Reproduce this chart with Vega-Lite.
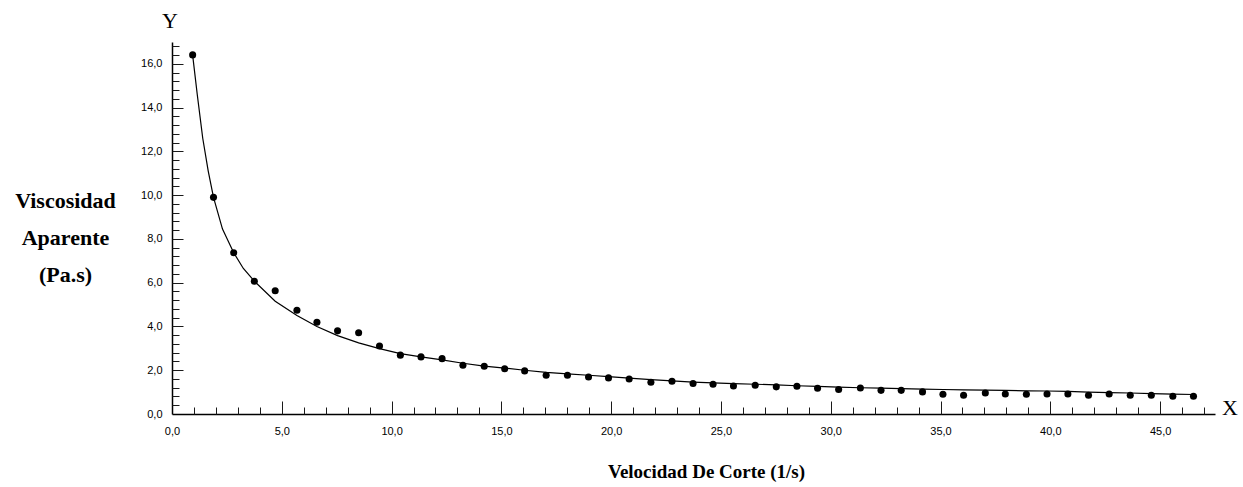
{
  "$schema": "https://vega.github.io/schema/vega-lite/v6.json",
  "autosize": {"type": "none"},
  "padding": {"left": 172, "top": 42, "right": 28, "bottom": 73},
  "width": 1043,
  "height": 372,
  "background": "white",
  "config": {
    "view": {"stroke": null},
    "axis": {"grid": false}
  },
  "datasets": {
    "pts": [
      {"x": 0.94, "y": 16.41}, {"x": 1.89, "y": 9.9}, {"x": 2.81, "y": 7.37}, {"x": 3.75, "y": 6.07},
      {"x": 4.7, "y": 5.63}, {"x": 5.69, "y": 4.74}, {"x": 6.6, "y": 4.19}, {"x": 7.54, "y": 3.8},
      {"x": 8.5, "y": 3.71}, {"x": 9.45, "y": 3.11}, {"x": 10.4, "y": 2.69}, {"x": 11.34, "y": 2.61},
      {"x": 12.3, "y": 2.53}, {"x": 13.25, "y": 2.23}, {"x": 14.22, "y": 2.18}, {"x": 15.15, "y": 2.07},
      {"x": 16.06, "y": 1.97}, {"x": 17.04, "y": 1.77}, {"x": 18.01, "y": 1.77}, {"x": 18.97, "y": 1.69},
      {"x": 19.88, "y": 1.65}, {"x": 20.82, "y": 1.6}, {"x": 21.81, "y": 1.45}, {"x": 22.77, "y": 1.5},
      {"x": 23.73, "y": 1.39}, {"x": 24.64, "y": 1.36}, {"x": 25.57, "y": 1.28}, {"x": 26.56, "y": 1.31},
      {"x": 27.52, "y": 1.24}, {"x": 28.46, "y": 1.27}, {"x": 29.4, "y": 1.18}, {"x": 30.36, "y": 1.12},
      {"x": 31.35, "y": 1.19}, {"x": 32.29, "y": 1.08}, {"x": 33.21, "y": 1.08}, {"x": 34.18, "y": 1.01},
      {"x": 35.11, "y": 0.9}, {"x": 36.05, "y": 0.86}, {"x": 37.04, "y": 0.96}, {"x": 37.95, "y": 0.91},
      {"x": 38.91, "y": 0.9}, {"x": 39.85, "y": 0.91}, {"x": 40.8, "y": 0.91}, {"x": 41.74, "y": 0.86},
      {"x": 42.68, "y": 0.91}, {"x": 43.64, "y": 0.86}, {"x": 44.6, "y": 0.86}, {"x": 45.58, "y": 0.81},
      {"x": 46.52, "y": 0.81}
    ],
    "fit": [
      {"x": 0.94, "y": 16.4}, {"x": 1.15, "y": 14.6}, {"x": 1.4, "y": 12.6}, {"x": 1.65, "y": 11.1},
      {"x": 1.89, "y": 9.9}, {"x": 2.3, "y": 8.45}, {"x": 2.81, "y": 7.37}, {"x": 3.25, "y": 6.65}, {"x": 3.75, "y": 6.07},
      {"x": 4.7, "y": 5.15}, {"x": 5.69, "y": 4.5}, {"x": 6.6, "y": 4.0}, {"x": 7.54, "y": 3.58},
      {"x": 8.5, "y": 3.25}, {"x": 9.45, "y": 2.99}, {"x": 10.4, "y": 2.76}, {"x": 11.34, "y": 2.61},
      {"x": 12.3, "y": 2.47}, {"x": 13.25, "y": 2.32}, {"x": 14.22, "y": 2.19}, {"x": 15.15, "y": 2.1},
      {"x": 16.06, "y": 2.0}, {"x": 17.04, "y": 1.9}, {"x": 18.01, "y": 1.83}, {"x": 18.97, "y": 1.77},
      {"x": 19.88, "y": 1.71}, {"x": 20.82, "y": 1.64}, {"x": 21.81, "y": 1.57}, {"x": 22.77, "y": 1.51},
      {"x": 23.73, "y": 1.46}, {"x": 24.64, "y": 1.42}, {"x": 25.57, "y": 1.39}, {"x": 26.56, "y": 1.36},
      {"x": 27.52, "y": 1.33}, {"x": 28.46, "y": 1.29}, {"x": 29.4, "y": 1.26}, {"x": 30.36, "y": 1.23},
      {"x": 31.35, "y": 1.2}, {"x": 32.29, "y": 1.18}, {"x": 33.21, "y": 1.16}, {"x": 34.18, "y": 1.14},
      {"x": 35.11, "y": 1.12}, {"x": 36.05, "y": 1.1}, {"x": 37.04, "y": 1.09}, {"x": 37.95, "y": 1.08},
      {"x": 38.91, "y": 1.06}, {"x": 39.85, "y": 1.05}, {"x": 40.8, "y": 1.03}, {"x": 41.74, "y": 1.0},
      {"x": 42.68, "y": 0.98}, {"x": 43.64, "y": 0.96}, {"x": 44.6, "y": 0.93}, {"x": 45.58, "y": 0.91},
      {"x": 46.52, "y": 0.89}
    ],
    "lbl": [
      {"x": 48.18, "y": 0.26, "t": "X"},
      {"x": -0.09, "y": 17.96, "t": "Y"}
    ]
  },
  "resolve": {"axis": {"x": "independent", "y": "independent"}},
  "layer": [
    {
      "data": {"name": "fit"},
      "mark": {"type": "line", "color": "black", "strokeWidth": 1.2},
      "encoding": {
        "x": {"field": "x", "type": "quantitative", "scale": {"domain": [0, 47.5], "nice": false, "zero": true},
          "axis": {"orient": "bottom", "values": [0, 5, 10, 15, 20, 25, 30, 35, 40, 45], "ticks": false, "labelPadding": 11,
            "domainColor": "#000000", "domainWidth": 1.5,
            "labelFont": "Liberation Sans", "labelFontSize": 11, "labelColor": "#000000",
            "labelExpr": "replace(format(datum.value, '.1f'), '.', ',')", "labelFlush": false,
            "title": "Velocidad De Corte (1/s)", "titleFont": "Liberation Serif", "titleFontSize": 19, "titleFontWeight": "bold",
            "titleColor": "#000000", "titleX": 534, "titleY": 57, "titleBaseline": "middle", "titleAlign": "center"}},
        "y": {"field": "y", "type": "quantitative", "scale": {"domain": [0, 17.0], "nice": false, "zero": true},
          "axis": {"orient": "left", "values": [0, 2, 4, 6, 8, 10, 12, 14, 16], "ticks": false, "labelPadding": 10,
            "domainColor": "#000000", "domainWidth": 1.5,
            "labelFont": "Liberation Sans", "labelFontSize": 11, "labelColor": "#000000",
            "labelExpr": "replace(format(datum.value, '.1f'), '.', ',')", "labelFlush": false,
            "title": ["Viscosidad", "Aparente", "(Pa.s)"], "titleFont": "Liberation Serif", "titleFontSize": 22, "titleFontWeight": "bold",
            "titleColor": "#000000", "titleAngle": 0, "titleX": -107, "titleY": 158, "titleAlign": "center", "titleBaseline": "middle", "titleLineHeight": 37}}
      }
    },
    {
      "data": {"name": "pts"},
      "mark": {"type": "point", "filled": true, "shape": "circle", "size": 50, "color": "black", "opacity": 1},
      "encoding": {
        "x": {"field": "x", "type": "quantitative",
          "axis": {"orient": "top", "offset": -372, "values": [1,2,3,4,5,6,7,8,9,10,11,12,13,14,15,16,17,18,19,20,21,22,23,24,25,26,27,28,29,30,31,32,33,34,35,36,37,38,39,40,41,42,43,44,45,46,47],
            "tickColor": "#1a1a1a",
            "tickSize": {"condition": {"test": "datum.value % 5 === 0", "value": 13}, "value": 7}, "labels": false, "domain": false, "title": null}},
        "y": {"field": "y", "type": "quantitative",
          "axis": {"orient": "right", "offset": -1043, "values": [0.4,0.8,1.2,1.6,2,2.4,2.8,3.2,3.6,4,4.4,4.8,5.2,5.6,6,6.4,6.8,7.2,7.6,8,8.4,8.8,9.2,9.6,10,10.4,10.8,11.2,11.6,12,12.4,12.8,13.2,13.6,14,14.4,14.8,15.2,15.6,16,16.4,16.8],
            "tickColor": "#1a1a1a",
            "tickSize": {"condition": {"test": "abs(datum.value / 2 - round(datum.value / 2)) < 0.01", "value": 11}, "value": 7}, "labels": false, "domain": false, "title": null}}
      }
    },
    {
      "data": {"name": "lbl"},
      "mark": {"type": "text", "font": "Liberation Serif", "fontSize": 22, "color": "black", "align": "center", "baseline": "middle"},
      "encoding": {
        "x": {"field": "x", "type": "quantitative", "axis": null},
        "y": {"field": "y", "type": "quantitative", "axis": null},
        "text": {"field": "t", "type": "nominal"}
      }
    }
  ]
}
